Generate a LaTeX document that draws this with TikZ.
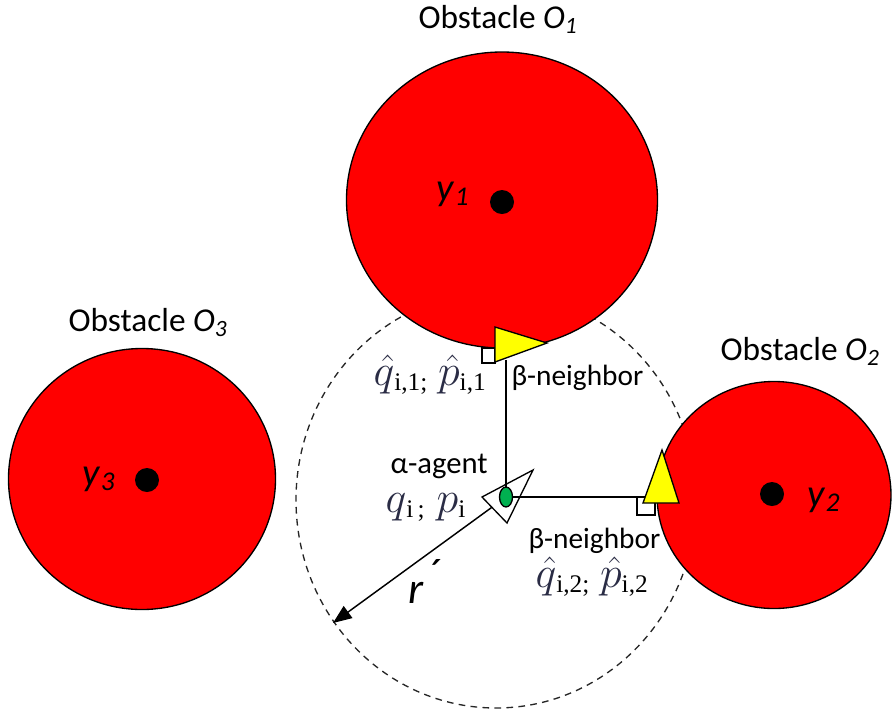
\documentclass[tikz,border=0pt]{standalone}
\usepackage{fix-cm}
\usepackage{fontspec}
\setmainfont{Carlito}
\newfontfamily\tnrfont{Liberation Serif}
\usetikzlibrary{arrows.meta, shapes.geometric}
\definecolor{cred}{HTML}{FF0000}
\definecolor{cyellow}{HTML}{FFFF00}
\definecolor{cgreen}{HTML}{00B050}
\definecolor{cmath}{HTML}{2A2C45}
\newcommand{\obst}[1]{Obstacle \textit{O}\textsubscript{\textit{#1}}}
\newcommand{\qp}[2]{{\fontsize{33}{33}\selectfont$\color{cmath}#1$}%
  \raisebox{-4pt}{\tnrfont\fontsize{19}{19}\selectfont #2}}
\tikzset{
  every picture/.style={line width=1pt},
  obstacle/.style={ellipse, draw=black, fill=cred, inner sep=0pt, outer sep=0pt},
  centre/.style={circle, fill=black, inner sep=0pt, minimum size=18pt},
  tag/.style={inner sep=0pt, font=\fontsize{#1}{#1}\selectfont},
  tag/.default=22,
  sensing/.style={draw=black!85, line width=1pt, dash pattern=on 5pt off 4pt},
  beacon/.style={draw=black, fill=cyellow, line width=1pt},
  foot/.style={draw=black, fill=white, line width=1pt},
  radius arrow/.style={-{Triangle[length=14pt, width=11pt]}, line width=1.1pt},
}

\begin{document}
\begin{tikzpicture}[x=0.75pt, y=-0.75pt]
  \useasboundingbox (0,0) rectangle (893,719);
  \coordinate (agent) at (506,497);
  \draw[sensing] (496,500) ellipse [x radius=150pt, y radius=156pt];
  \node[obstacle, minimum width=233.25pt, minimum height=222pt] (o1) at (502,200) {};
  \node[obstacle, minimum width=175.5pt, minimum height=170.25pt] (o2) at (774,495) {};
  \node[obstacle, minimum width=200.25pt, minimum height=195.75pt] (o3) at (142,479) {};
  \node[centre] (c1) at (502,202) {};
  \node[centre] (c2) at (772,494) {};
  \node[centre] (c3) at (147,480) {};
  \coordinate (rend) at (333,623);
  \draw[radius arrow] (agent) -- (rend);
  \draw[foot] (agent) ++(-24,0) -- ++(51,-27) -- ++(-26,53) -- cycle;
  \coordinate (nb1) at (506,360);
  \coordinate (nb2) at (643,497);
  \draw[foot] (482,348) rectangle (495,363);
  \draw[foot] (637,497) rectangle (655,515);
  \draw (agent) -- (nb1);
  \draw (agent) -- (nb2);
  \draw[beacon] (495,327) -- (547,343) -- (495,362) -- cycle;
  \draw[beacon] (662,450) -- (679,503) -- (643,503) -- cycle;
  \node[ellipse, draw=black, fill=cgreen, inner sep=0pt, minimum width=9.75pt, minimum height=15pt] (body) at (agent) {};

  \node[tag=25, anchor=base] (n1) at (498,28) {\obst{1}};
  \node[tag=25, anchor=base] (n3) at (148,331) {\obst{3}};
  \node[tag=25, anchor=base] (n2) at (800,360) {\obst{2}};
  \node[tag=29, anchor=base west] (y1) at (436,200) {\textit{y}\textsubscript{\textit{1}}};
  \node[tag=29, anchor=base west] (y2) at (807,506) {\textit{y}\textsubscript{\textit{2}}};
  \node[tag=29, anchor=base west] (y3) at (82,485) {\textit{y}\textsubscript{\textit{3}}};
  \node[tag=23, anchor=base west] (a1) at (390,473) {α-agent};
  \node[tag, anchor=base west] (b1) at (511,385) {β-neighbor};
  \node[tag, anchor=base west] (b2) at (528,548) {β-neighbor};
  \node[tag, anchor=base west] (s0) at (385,512) {\qp{q}{i\,;}\hspace{9pt}\qp{p}{i}};
  \node[tag, anchor=base west] (s1) at (373,385) {\qp{\hat{q}}{i,1;}\hspace{8pt}\qp{\hat{p}}{i,1}};
  \node[tag, anchor=base west] (s2) at (535,587) {\qp{\hat{q}}{i,2;}\hspace{8pt}\qp{\hat{p}}{i,2}};
  \node[tag=33, anchor=base west] (rl) at (408,603) {\textit{r}\kern0.05em\raisebox{0.3em}{\textit{´}}};
\end{tikzpicture}
\end{document}
